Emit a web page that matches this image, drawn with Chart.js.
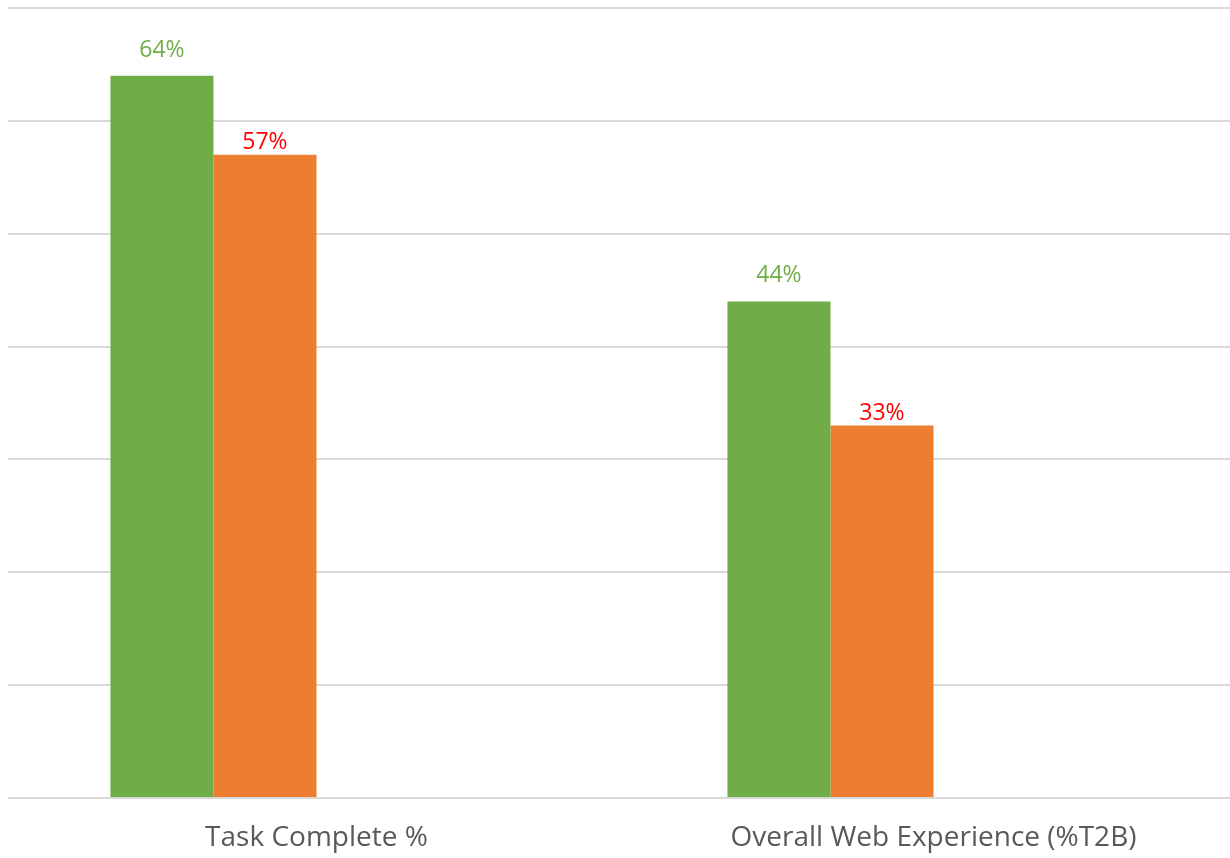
<html>
  <head>
    <script src="https://cdn.jsdelivr.net/npm/chart.js"></script>
    <meta charset="UTF-8" />
    <style>
      body { margin: 0; overflow: hidden; background: #fff; }
      #wrap { width: 1242px; height: 858px; position: relative; }
    </style>
  </head>
  <body>
    <div id="wrap">
      <canvas id="myChart"></canvas>
    </div>
    <script>
      const categories = ["Task Complete %", "Overall Web Experience (%T2B)"];
      const seriesA = [64, 44];
      const seriesB = [57, 33];
      // two empty series, the source chart reserves their slots
      const emptySeries = [null, null];

      const labelColors = ["#70AD47", "#FF0000"];
      const labelGaps = [19, 6];

      const valueLabels = {
        id: "valueLabels",
        afterDatasetsDraw(chart) {
          const ctx = chart.ctx;
          ctx.save();
          ctx.font = "23px 'Open Sans'";
          ctx.textAlign = "center";
          ctx.textBaseline = "alphabetic";
          [0, 1].forEach(i => {
            const meta = chart.getDatasetMeta(i);
            meta.data.forEach((bar, j) => {
              const v = chart.data.datasets[i].data[j];
              ctx.fillStyle = labelColors[i];
              ctx.fillText(v + "%", bar.x, bar.y - labelGaps[i]);
            });
          });
          ctx.restore();
        },
      };

      const config = {
        type: "bar",
        data: {
          labels: categories,
          datasets: [
            { label: "A", data: seriesA, backgroundColor: "#70AD47" },
            { label: "B", data: seriesB, backgroundColor: "#ED7D31" },
            { label: "C", data: emptySeries, backgroundColor: "#A5A5A5" },
            { label: "D", data: emptySeries, backgroundColor: "#FFC000" },
          ],
        },
        options: {
          responsive: true,
          maintainAspectRatio: false,
          animation: false,
          layout: { padding: { left: 8, right: 0, top: 8, bottom: 0 } },
          datasets: {
            bar: { categoryPercentage: 0.668, barPercentage: 1, borderWidth: 0 },
          },
          scales: {
            x: {
              grid: { display: false },
              border: { display: false },
              ticks: {
                color: "#595959",
                font: { family: "'Open Sans'", size: 28 },
                padding: 15,
              },
              afterFit: scale => { scale.height = 60; },
            },
            y: {
              min: 0,
              max: 70,
              ticks: { stepSize: 10, display: false },
              grid: { color: "#D9D9D9", lineWidth: 2, drawTicks: false },
              border: { display: false },
            },
          },
          plugins: {
            legend: { display: false },
            tooltip: { enabled: false },
          },
        },
        plugins: [valueLabels],
      };

      new Chart(document.getElementById("myChart"), config);
    </script>
  </body>
</html>
